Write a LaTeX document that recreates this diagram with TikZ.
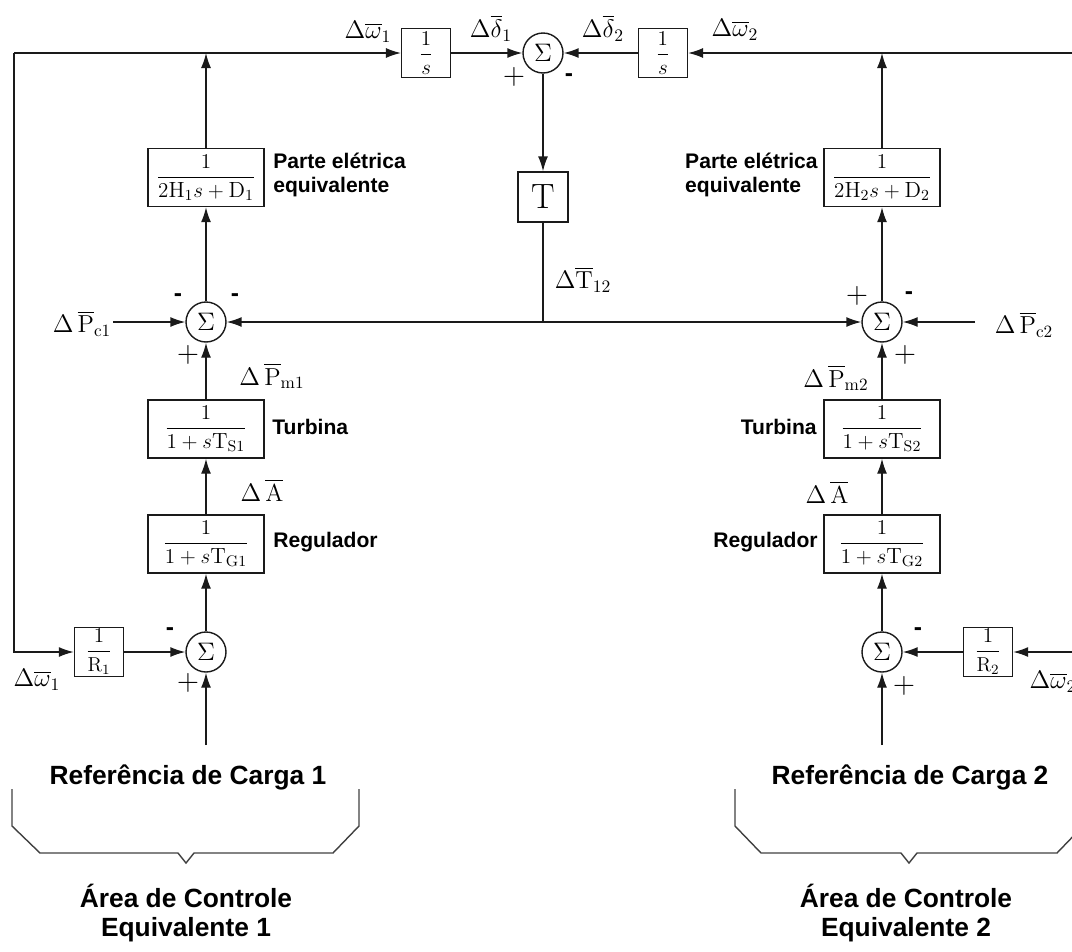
\documentclass[tikz,border=0pt]{standalone}
\usepackage{amsmath}
\usepackage{fontspec}
\newfontfamily\lblfont{Liberation Sans}
\usepackage{xcolor}
\definecolor{cLine}{HTML}{1A1A1A}
\definecolor{cBrace}{HTML}{404040}
\usetikzlibrary{positioning,arrows.meta,calc}
\tikzset{
  block-box/.style={draw=cLine,line width=0.8pt,minimum width=2.32cm,
    minimum height=1.16cm,inner sep=1pt,align=center,
    font=\fontsize{12.5}{14}\selectfont},
  block-small/.style={draw=cLine,line width=0.8pt,minimum width=0.98cm,
    minimum height=0.97cm,inner sep=1pt,font=\fontsize{11.5}{13}\selectfont},
  block-tie/.style={draw=cLine,line width=0.8pt,minimum size=1cm,
    inner sep=1pt,font=\fontsize{20}{22}\selectfont},
  node-sum/.style={draw=cLine,line width=0.8pt,circle,minimum size=0.8cm,
    inner sep=0pt,font=\fontsize{15}{16}\selectfont},
  sig-label/.style={inner sep=0pt,font=\fontsize{14}{16}\selectfont},
  txt-label/.style={inner sep=0pt,align=left,
    font=\lblfont\bfseries\fontsize{12}{14}\selectfont},
  txt-big/.style={inner sep=0pt,align=center,
    font=\lblfont\bfseries\fontsize{15}{17}\selectfont},
  sign-plus/.style={inner sep=0pt,font=\fontsize{16}{16}\selectfont},
  sign-minus/.style={inner sep=0pt,font=\lblfont\bfseries\fontsize{14}{14}\selectfont},
  arrow/.style={-{Latex[length=3mm,width=2mm]},line width=0.8pt,draw=cLine},
  wire/.style={line width=0.8pt,draw=cLine},
  brace-line/.style={line width=0.8pt,draw=cBrace},
}
\begin{document}
\begin{tikzpicture}[x=0.02cm,y=-0.02cm]
  \useasboundingbox (0,0) rectangle (1072,951);

  % area 1 (left column)
  \node[node-sum] (sumL) at (206,652) {$\Sigma$};
  \node[block-box] (regL) at (206,544) {$\dfrac{1}{1+s\mathrm{T_{G1}}}$};
  \node[block-box] (turbL) at (206,429) {$\dfrac{1}{1+s\mathrm{T_{S1}}}$};
  \node[node-sum] (sumPL) at (206,322) {$\Sigma$};
  \node[block-box] (elecL) at (206,177.5) {$\dfrac{1}{2\mathrm{H_1}s+\mathrm{D_1}}$};
  \node[block-small] (gainR1) at (99,652) {$\dfrac{1}{\mathrm{R_1}}$};

  % area 2 (right column)
  \node[node-sum] (sumR) at (882,652) {$\Sigma$};
  \node[block-box] (regR) at (882,544) {$\dfrac{1}{1+s\mathrm{T_{G2}}}$};
  \node[block-box] (turbR) at (882,429) {$\dfrac{1}{1+s\mathrm{T_{S2}}}$};
  \node[node-sum] (sumPR) at (882,322) {$\Sigma$};
  \node[block-box] (elecR) at (882,177.5) {$\dfrac{1}{2\mathrm{H_2}s+\mathrm{D_2}}$};
  \node[block-small] (gainR2) at (988,652) {$\dfrac{1}{\mathrm{R_2}}$};

  % tie line
  \node[node-sum] (sumT) at (543,53) {$\Sigma$};
  \node[block-small,left=1.42cm of sumT] (intL) {$\dfrac{1}{s}$};
  \node[block-small,right=1.48cm of sumT] (intR) {$\dfrac{1}{s}$};
  \node[block-tie] (tie) at (543,197) {$\mathrm{T}$};

  \coordinate (cTL) at (14,53);
  \coordinate (cTR) at (1072,53);
  \coordinate (cR2) at (1072,652);
  \coordinate (inPc1) at (113,322);
  \coordinate (inPc2) at (975,322);
  \coordinate (refL) at (206,745);
  \coordinate (refR) at (882,745);
  \coordinate (jT) at (tie |- sumPL);

  \draw[arrow] (cTL) -- (intL);
  \draw[arrow] (cTL) |- (gainR1);
  \draw[arrow] (elecL) -- (elecL |- cTL);
  \draw[arrow] (intL) -- (sumT);
  \draw[arrow] (cTR) -- (intR);
  \draw[arrow] (intR) -- (sumT);
  \draw[arrow] (elecR) -- (elecR |- cTR);
  \draw[arrow] (sumT) -- (tie);
  \draw[wire] (tie) -- (jT);
  \draw[arrow] (jT) -- (sumPL);
  \draw[arrow] (jT) -- (sumPR);
  \draw[arrow] (inPc1) -- (sumPL);
  \draw[arrow] (inPc2) -- (sumPR);

  \draw[arrow] (refL) -- (sumL);
  \draw[arrow] (gainR1) -- (sumL);
  \draw[arrow] (sumL) -- (regL);
  \draw[arrow] (regL) -- (turbL);
  \draw[arrow] (turbL) -- (sumPL);
  \draw[arrow] (sumPL) -- (elecL);

  \draw[arrow] (refR) -- (sumR);
  \draw[arrow] (cR2) -- (gainR2);
  \draw[arrow] (gainR2) -- (sumR);
  \draw[arrow] (sumR) -- (regR);
  \draw[arrow] (regR) -- (turbR);
  \draw[arrow] (turbR) -- (sumPR);
  \draw[arrow] (sumPR) -- (elecR);

  % signal labels
  \node[sig-label] (lbW1t) at (368,32) {$\Delta\overline{\omega}_1$};
  \node[sig-label] (lbD1) at (491,28) {$\Delta\overline{\delta}_1$};
  \node[sig-label] (lbD2) at (603,28) {$\Delta\overline{\delta}_2$};
  \node[sig-label] (lbW2t) at (735,30) {$\Delta\overline{\omega}_2$};
  \node[sig-label] (lbT12) at (583,280) {$\Delta\overline{\mathrm{T}}_{12}$};
  \node[sig-label] (lbPc1) at (82,324) {$\Delta\,\overline{\mathrm{P}}_{\mathrm{c1}}$};
  \node[sig-label] (lbPm1) at (272,376) {$\Delta\,\overline{\mathrm{P}}_{\mathrm{m1}}$};
  \node[sig-label] (lbA1) at (262,490) {$\Delta\,\overline{\mathrm{A}}$};
  \node[sig-label] (lbW1b) at (37,680) {$\Delta\overline{\omega}_1$};
  \node[sig-label] (lbPc2) at (1024,325) {$\Delta\,\overline{\mathrm{P}}_{\mathrm{c2}}$};
  \node[sig-label] (lbPm2) at (836,378) {$\Delta\,\overline{\mathrm{P}}_{\mathrm{m2}}$};
  \node[sig-label] (lbA2) at (827,492) {$\Delta\,\overline{\mathrm{A}}$};
  \node[sig-label] (lbW2b) at (1053,682) {$\Delta\overline{\omega}_2$};

  % signs
  \node[sign-plus] (sgT1) at (514,77) {$+$};
  \node[sign-minus] (sgT2) at (569,78) {-};
  \node[sign-minus] (sgL1) at (178,298) {-};
  \node[sign-minus] (sgL2) at (235,298) {-};
  \node[sign-plus] (sgL3) at (188,355) {$+$};
  \node[sign-minus] (sgL4) at (170,632) {-};
  \node[sign-plus] (sgL5) at (188,683) {$+$};
  \node[sign-plus] (sgR1) at (857,296) {$+$};
  \node[sign-minus] (sgR2) at (909,296) {-};
  \node[sign-plus] (sgR3) at (905,355) {$+$};
  \node[sign-minus] (sgR4) at (918,632) {-};
  \node[sign-plus] (sgR5) at (904,686) {$+$};

  % block names
  \node[txt-label,anchor=west] (nmElecL) at (273,175) {Parte elétrica\\equivalente};
  \node[txt-label,anchor=west] (nmTurbL) at (272,427) {Turbina};
  \node[txt-label,anchor=west] (nmRegL) at (273,542) {Regulador};
  \node[txt-label,anchor=east] (nmElecR) at (818,175) {Parte elétrica\\equivalente};
  \node[txt-label,anchor=east] (nmTurbR) at (817,427) {Turbina};
  \node[txt-label,anchor=east] (nmRegR) at (818,542) {Regulador};

  % load references and areas
  \node[txt-big] (refTxtL) at (188,777) {Referência de Carga 1};
  \node[txt-big] (refTxtR) at (910,777) {Referência de Carga 2};
  \node[txt-big] (areaL) at (186,913) {Área de Controle\\Equivalente 1};
  \node[txt-big] (areaR) at (906,913) {Área de Controle\\Equivalente 2};

  \draw[brace-line] (12,789) -- (12,826) -- (40,853) -- (178,853) -- (186,863)
    -- (194,853) -- (333,853) -- (359,826) -- (359,789);
  \draw[brace-line] (735,789) -- (735,826) -- (761,853) -- (901,853) -- (909,863)
    -- (917,853) -- (1057,853) -- (1083,826) -- (1083,789);
\end{tikzpicture}
\end{document}
